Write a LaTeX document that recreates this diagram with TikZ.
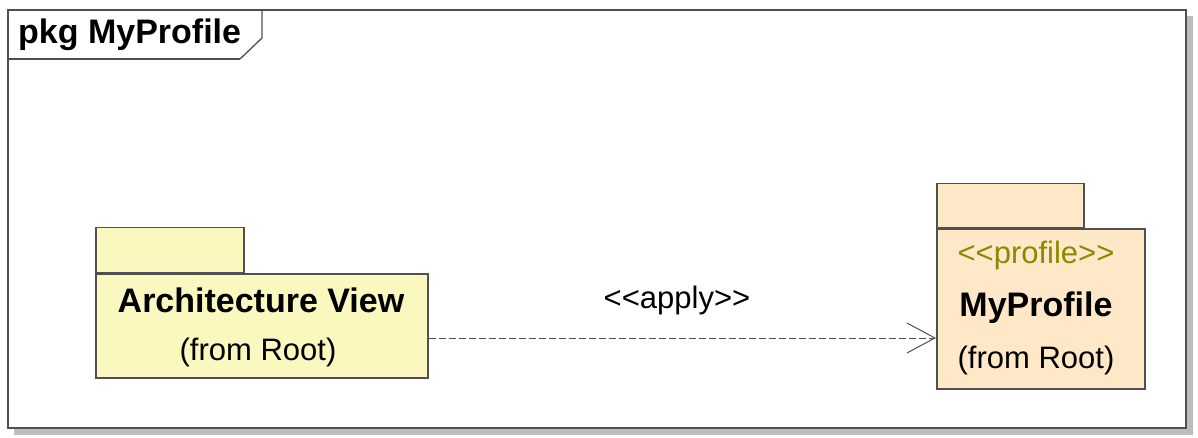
\documentclass[tikz,border=0pt]{standalone}
\usepackage{fontspec}
\setmainfont{Liberation Sans}[Ligatures=TeXOff]
\usetikzlibrary{arrows.meta,positioning}

\definecolor{viewfill}{HTML}{FAF8BE}
\definecolor{proffill}{HTML}{FFE8C8}
\definecolor{stereotext}{HTML}{8A8A00}
\definecolor{edgegray}{HTML}{505050}
\definecolor{shadowgray}{HTML}{BDBDBD}

\begin{document}
\begin{tikzpicture}[
    x=1pt, y=-1pt,
    pkg body/.style={
        rectangle,
        draw=edgegray,
        line width=1.5pt,
        fill=#1,
        inner sep=0pt
    },
    pkg tab/.style={
        rectangle,
        draw=edgegray,
        line width=1.5pt,
        fill=#1,
        inner sep=0pt,
        anchor=south west
    },
    pkg name/.style={
        font=\fontsize{34}{38}\selectfont\bfseries,
        inner sep=0pt
    },
    from label/.style={
        font=\fontsize{31}{35}\selectfont,
        inner sep=0pt
    },
    stereo label/.style={
        font=\fontsize{31}{35}\selectfont,
        text=#1,
        inner sep=0pt
    },
    dep/.style={
        draw=edgegray,
        line width=1pt,
        dash pattern=on 7pt off 3pt,
        -{Straight Barb[length=28pt,width=30pt,line width=1pt]}
    }
]
\useasboundingbox (0,0) rectangle (1198,437);

% Frame with its shadow
\fill[shadowgray] (14,16) rectangle (1193,435);
\draw[edgegray, line width=1.5pt, fill=white] (8,10) rectangle (1186,428);
\draw[edgegray, line width=1.3pt] (262,10) -- (262,38) -- (240,59);
\draw[edgegray, line width=2.5pt] (8,59) -- (240,59);
\node[pkg name, anchor=west] (frametitle) at (18,35) {pkg MyProfile};

% Packages
\node[pkg body=viewfill, minimum width=332pt, minimum height=104pt, anchor=north west]
    (avbody) at (95,273) {};
\node[pkg tab=viewfill, minimum width=148pt, minimum height=45pt]
    (avtab) at (avbody.north west) {};
\node[pkg name]   (avname) at (261,300) {Architecture View};
\node[from label] (avfrom) at (258,352) {(from Root)};

\node[pkg body=proffill, minimum width=208pt, minimum height=160pt, anchor=north west]
    (mpbody) at (936,228) {};
\node[pkg tab=proffill, minimum width=147pt, minimum height=44pt]
    (mptab) at (mpbody.north west) {};
\node[stereo label=stereotext] (mpstereo) at (1036,255) {<<profile>>};
\node[pkg name]   (mpname) at (1036,308) {MyProfile};
\node[from label] (mpfrom) at (1036,360) {(from Root)};

% Apply dependency
\coordinate (applysrc) at (avbody.east |- 0,338);
\draw[dep] (applysrc) -- (applysrc -| mpbody.west);
\node[from label] (applylbl) at (677,300) {<<apply>>};

\end{tikzpicture}
\end{document}
